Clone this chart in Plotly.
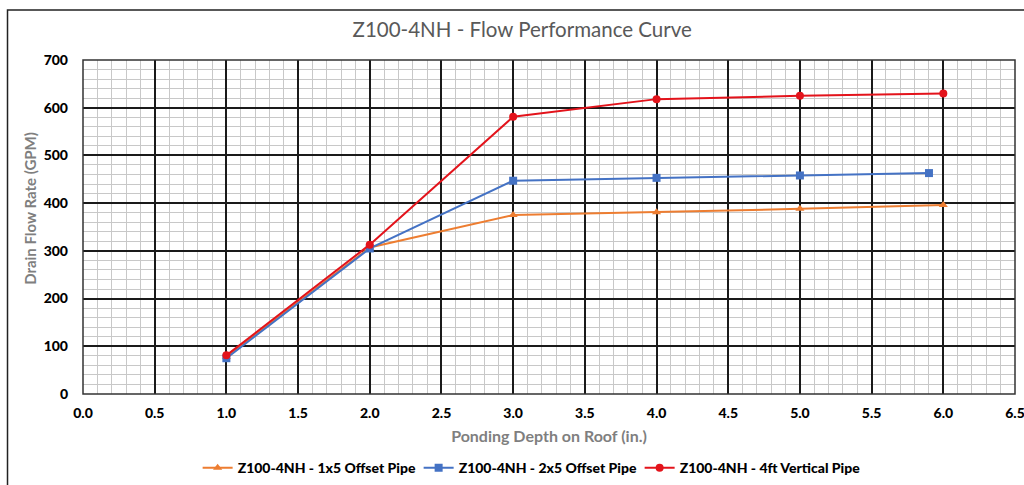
import plotly.graph_objects as go

depth_1x5 = [1.0, 2.0, 3.0, 4.0, 5.0, 6.0]
flow_1x5 = [78, 307, 375, 381, 388, 396]
depth_2x5 = [1.0, 2.0, 3.0, 4.0, 5.0, 5.9]
flow_2x5 = [75, 305, 447, 453, 458, 463]
depth_4ft = [1.0, 2.0, 3.0, 4.0, 5.0, 6.0]
flow_4ft = [81, 313, 581, 618, 625, 630]

names = ["Z100-4NH - 1x5 Offset Pipe", "Z100-4NH - 2x5 Offset Pipe", "Z100-4NH - 4ft Vertical Pipe"]
colors = ["#ED7D31", "#4472C4", "#E3131B"]
symbols = ["triangle-up", "square", "circle"]

FONT = "Lato"
BOLD = "Lato Black, Lato"

fig = go.Figure()
for x, y, n, c, s in zip([depth_1x5, depth_2x5, depth_4ft], [flow_1x5, flow_2x5, flow_4ft], names, colors, symbols):
    fig.add_trace(go.Scatter(x=x, y=y, name=n, mode="lines+markers",
                             line=dict(color=c, width=2),
                             marker=dict(color=c, symbol=s, size=8)))

fig.update_layout(
    width=1024, height=485,
    margin=dict(l=83, r=9, t=60, b=91, autoexpand=False),
    paper_bgcolor="white", plot_bgcolor="white",
    font=dict(family=FONT, color="black"),
    title=dict(text="Z100-4NH - Flow Performance Curve", x=0.51, xanchor="center",
               y=0.938, yanchor="middle", font=dict(size=20.5, color="#595959", family=FONT)),
    showlegend=True,
    legend=dict(orientation="h", x=0.123, xanchor="left", y=-0.222, yanchor="middle",
                font=dict(size=14, color="black", family=BOLD),
                itemwidth=30, entrywidth=176, traceorder="normal"),
    shapes=[dict(type="rect", xref="paper", yref="paper",
                 x0=-0.081, x1=1.03, y0=-0.4, y1=1.15,
                 line=dict(color="#222222", width=1.5), layer="below"),
            dict(type="rect", xref="x domain", yref="y domain",
                 x0=0, x1=1, y0=0, y1=1,
                 line=dict(color="#333333", width=1.5), layer="above")],
    annotations=[dict(text="<b>Drain Flow Rate (GPM)</b>", textangle=-90,
                      xref="paper", yref="paper", x=-0.057, y=0.557,
                      xanchor="center", yanchor="middle", showarrow=False,
                      font=dict(size=15, color="#7f7f7f", family=FONT))],
)

fig.update_xaxes(range=[0, 6.5], dtick=0.5, tick0=0, tickformat=".1f", automargin=False,
                 showgrid=True, gridcolor="#1a1a1a", gridwidth=1.5,
                 minor=dict(dtick=0.1, showgrid=True, gridcolor="#c8c8c8", gridwidth=1),
                 zeroline=False, showline=False, ticks="",
                 ticklabelstandoff=9, ticklabeloverflow="allow",
                 tickfont=dict(size=14, color="black", family=BOLD),
                 title=dict(text="<b>Ponding Depth on Roof (in.)</b>", standoff=10,
                            font=dict(size=16, color="#7f7f7f", family=FONT)))
fig.update_yaxes(range=[0, 700], dtick=100, tick0=0, automargin=False,
                 showgrid=True, gridcolor="#1a1a1a", gridwidth=1.5,
                 minor=dict(dtick=20, showgrid=True, gridcolor="#c8c8c8", gridwidth=1),
                 zeroline=False, showline=False, ticks="",
                 ticklabeloverflow="allow",
                 tickfont=dict(size=14, color="black", family=BOLD),
                 ticklabelstandoff=14)

fig.write_html("out.html", config={"displayModeBar": False},
               post_script="document.body.style.margin='0px';")
